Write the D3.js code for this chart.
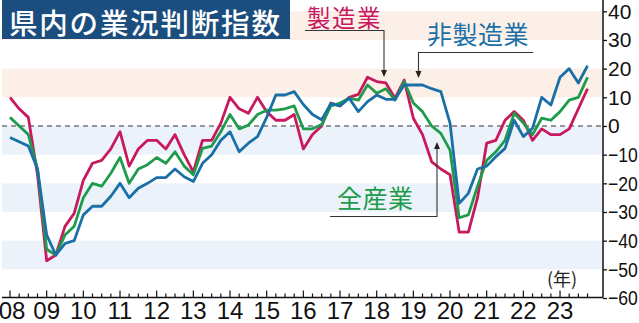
<!DOCTYPE html>
<html>
<head>
<meta charset="utf-8">
<script src="https://cdn.jsdelivr.net/npm/d3@7"></script>
<style>
  html, body { margin: 0; padding: 0; background: #fff; }
  svg { display: block; }
</style>
</head>
<body>
<svg id="chart" width="639" height="323"></svg>
<script>
// Business conditions DI, quarterly, 2008 Q1 – 2023 Q4
const yearLabels = ["08","09","10","11","12","13","14","15","16","17","18","19","20","21","22","23"];
const firstYear = 2008;

// 製造業 (manufacturing)
const manufacturing = [
  10, 6, 3, -17,
  -47, -45, -35, -30.5,
  -19, -13, -12, -8,
  -2, -14, -8, -5,
  -5, -8, -3, -10,
  -16, -5, -5, 1,
  10, 6, 4.4, 10,
  5, 2, 2, 4,
  -8, -3, 0, 8,
  7, 10, 11, 17,
  15.5, 15, 9.7, 16,
  2.7, -3, -12.5, -15,
  -17, -37, -37, -25,
  -6, -5, 2, 5,
  2, -5, -1, -3,
  -3, -1, 6, 13
];

// 全産業 (all industries)
const allIndustries = [
  3, 0, -3, -15,
  -43, -45, -38, -35,
  -25, -20, -21, -16.5,
  -11, -20, -15, -13.5,
  -11, -13, -9, -14,
  -17, -7.8, -7, -2,
  4, -1, 0.3, 4,
  5.5, 5.5, 6, 7,
  -1, -1, 0.5, 7,
  8, 9.7, 9, 14.3,
  11.4, 13, 9, 15.5,
  8, 5, 0, -2.6,
  -8.4, -32, -31, -21,
  -12, -9, -5, 4.4,
  1, -3, 2.7, 2,
  5, 9, 10, 17
];

// 非製造業 (non-manufacturing)
const nonManufacturing = [
  -4, -5.5, -7, -15,
  -38, -45, -41, -40,
  -31, -28, -28, -24.5,
  -20, -25, -21.7, -20,
  -18, -18, -15, -17.7,
  -19.4, -13, -10, -5,
  -2, -9, -6, -3.7,
  3, 10.8, 10.8, 12,
  7.5, 4, 2.2, 7.8,
  7, 9.7, 5, 8.5,
  10.8, 9.3, 9.3, 14.3,
  14.3, 14.3, 13, 12,
  1, -27, -23.5, -15,
  -14, -10.7, -7.8, 2,
  -3.7, -0.8, 10, 7.3,
  17, 20, 15, 21
];

const yTicks = [40, 30, 20, 10, 0, -10, -20, -30, -40, -50, -60];
const pinkBands = [[30, 40], [10, 20]];
const blueBands = [[-10, 0], [-30, -20], [-50, -40]];

const colors = {
  manufacturing: "#c8195f",
  allIndustries: "#1f9b4c",
  nonManufacturing: "#1a70a6",
  title: "#1b4d7e"
};

const svg = d3.select("#chart");

const plotLeft = 2, plotRight = 603;
const x = d3.scaleLinear().domain([2008, 2024]).range([10, 596.7]);
const y = d3.scaleLinear().domain([-60, 40]).range([298, 11.3]);

const tOf = i => firstYear + i / 4;

// background bands
svg.append("g").selectAll("rect.pink").data(pinkBands).join("rect")
  .attr("x", plotLeft).attr("width", plotRight - plotLeft)
  .attr("y", d => y(d[1])).attr("height", d => y(d[0]) - y(d[1]))
  .attr("fill", "#fcefe8");
svg.append("g").selectAll("rect.blue").data(blueBands).join("rect")
  .attr("x", plotLeft).attr("width", plotRight - plotLeft)
  .attr("y", d => y(d[1])).attr("height", d => y(d[0]) - y(d[1]))
  .attr("fill", "#ebf2f9");

// zero line
svg.append("line")
  .attr("x1", plotLeft).attr("x2", plotRight)
  .attr("y1", y(0)).attr("y2", y(0))
  .attr("stroke", "#333").attr("stroke-width", 1)
  .attr("stroke-dasharray", "5,4");

// series lines
const line = d3.line().x((d, i) => x(tOf(i))).y(d => y(d));
[[manufacturing, colors.manufacturing],
 [allIndustries, colors.allIndustries],
 [nonManufacturing, colors.nonManufacturing]].forEach(([vals, c]) => {
  svg.append("path").datum(vals)
    .attr("d", line)
    .attr("fill", "none")
    .attr("stroke", c)
    .attr("stroke-width", 2.8)
    .attr("stroke-linejoin", "round");
});

// x axis (quarter ticks, years labelled)
const xAxisY = 297.5;
svg.append("line")
  .attr("x1", plotLeft).attr("x2", plotRight)
  .attr("y1", xAxisY).attr("y2", xAxisY)
  .attr("stroke", "#111").attr("stroke-width", 1.5);
const quarterTicks = d3.range(0, (2024 - 2008) * 4).map(q => 2008 + q / 4);
svg.append("g").selectAll("line").data(quarterTicks).join("line")
  .attr("x1", d => x(d)).attr("x2", d => x(d))
  .attr("y1", xAxisY).attr("y2", d => xAxisY - (Number.isInteger(d) ? 7 : 4))
  .attr("stroke", "#111").attr("stroke-width", 1.2);
svg.append("g").selectAll("text").data(yearLabels).join("text")
  .attr("x", (d, i) => Math.max(x(firstYear + i), 12))
  .attr("y", 319)
  .attr("text-anchor", "middle")
  .attr("font-family", "'Liberation Sans Narrow', 'Liberation Sans', Arial, sans-serif")
  .attr("font-size", 24)
  .attr("fill", "#111")
  .text(d => d);

// y axis on the right
svg.append("line")
  .attr("x1", plotRight).attr("x2", plotRight)
  .attr("y1", 0).attr("y2", xAxisY)
  .attr("stroke", "#111").attr("stroke-width", 1.5);
const yAxis = d3.axisRight(y).tickValues(yTicks).tickSize(4).tickPadding(1)
  .tickFormat(d => d < 0 ? "\u2212" + Math.abs(d) : String(d));
const yg = svg.append("g").attr("transform", `translate(${plotRight},0)`).call(yAxis);
yg.select(".domain").remove();
yg.selectAll(".tick line").attr("stroke", "#111").attr("stroke-width", 1.3);
const squeeze = 0.84;
yg.selectAll(".tick text")
  .attr("font-family", "'Liberation Sans', Arial, sans-serif")
  .attr("font-size", 21)
  .attr("fill", "#111")
  .filter(d => d < 0)
  .attr("x", 5 / squeeze)
  .attr("transform", `scale(${squeeze},1)`);

// unit label
svg.append("text")
  .attr("x", 562).attr("y", 286)
  .attr("text-anchor", "middle")
  .attr("font-family", "'Noto Sans CJK JP', sans-serif")
  .attr("font-size", 18)
  .attr("fill", "#222")
  .text("(年)");

// title
svg.append("rect").attr("x", 2).attr("y", 0).attr("width", 288).attr("height", 39)
  .attr("fill", colors.title);
svg.append("text")
  .attr("x", 9).attr("y", 33.5)
  .attr("font-family", "'Noto Sans CJK JP', sans-serif")
  .attr("font-weight", 500)
  .attr("font-size", 28.5)
  .attr("letter-spacing", 1.8)
  .attr("fill", "#fff")
  .text("県内の業況判断指数");

// series callouts
const jp = "'Noto Sans CJK JP', sans-serif";
function callout(label, color, tx, ty, size, spacing, points, tip, dir) {
  svg.append("text")
    .attr("x", tx).attr("y", ty)
    .attr("font-family", jp)
    .attr("font-size", size)
    .attr("letter-spacing", spacing)
    .attr("fill", color)
    .text(label);
  svg.append("path")
    .attr("d", d3.line()(points))
    .attr("fill", "none")
    .attr("stroke", "#333")
    .attr("stroke-width", 1.1);
  const [ax, ay] = tip;
  const s = dir === "down" ? -1 : 1;
  svg.append("path")
    .attr("d", `M${ax},${ay} L${ax - 3},${ay + s * 7} L${ax + 3},${ay + s * 7} Z`)
    .attr("fill", "#222");
}
callout("製造業", colors.manufacturing, 307, 27, 23.5, 1.5,
  [[305, 30.5], [384, 30.5], [384, 72]], [384, 77], "down");
callout("非製造業", colors.nonManufacturing, 427, 44, 25, 0.5,
  [[533, 52.5], [418.5, 52.5], [418.5, 73]], [418.5, 78], "down");
callout("全産業", "#1f9b4c", 337, 208, 25, 0.5,
  [[330, 216.5], [437, 216.5], [437, 147]], [437, 142], "up");
</script>
</body>
</html>
